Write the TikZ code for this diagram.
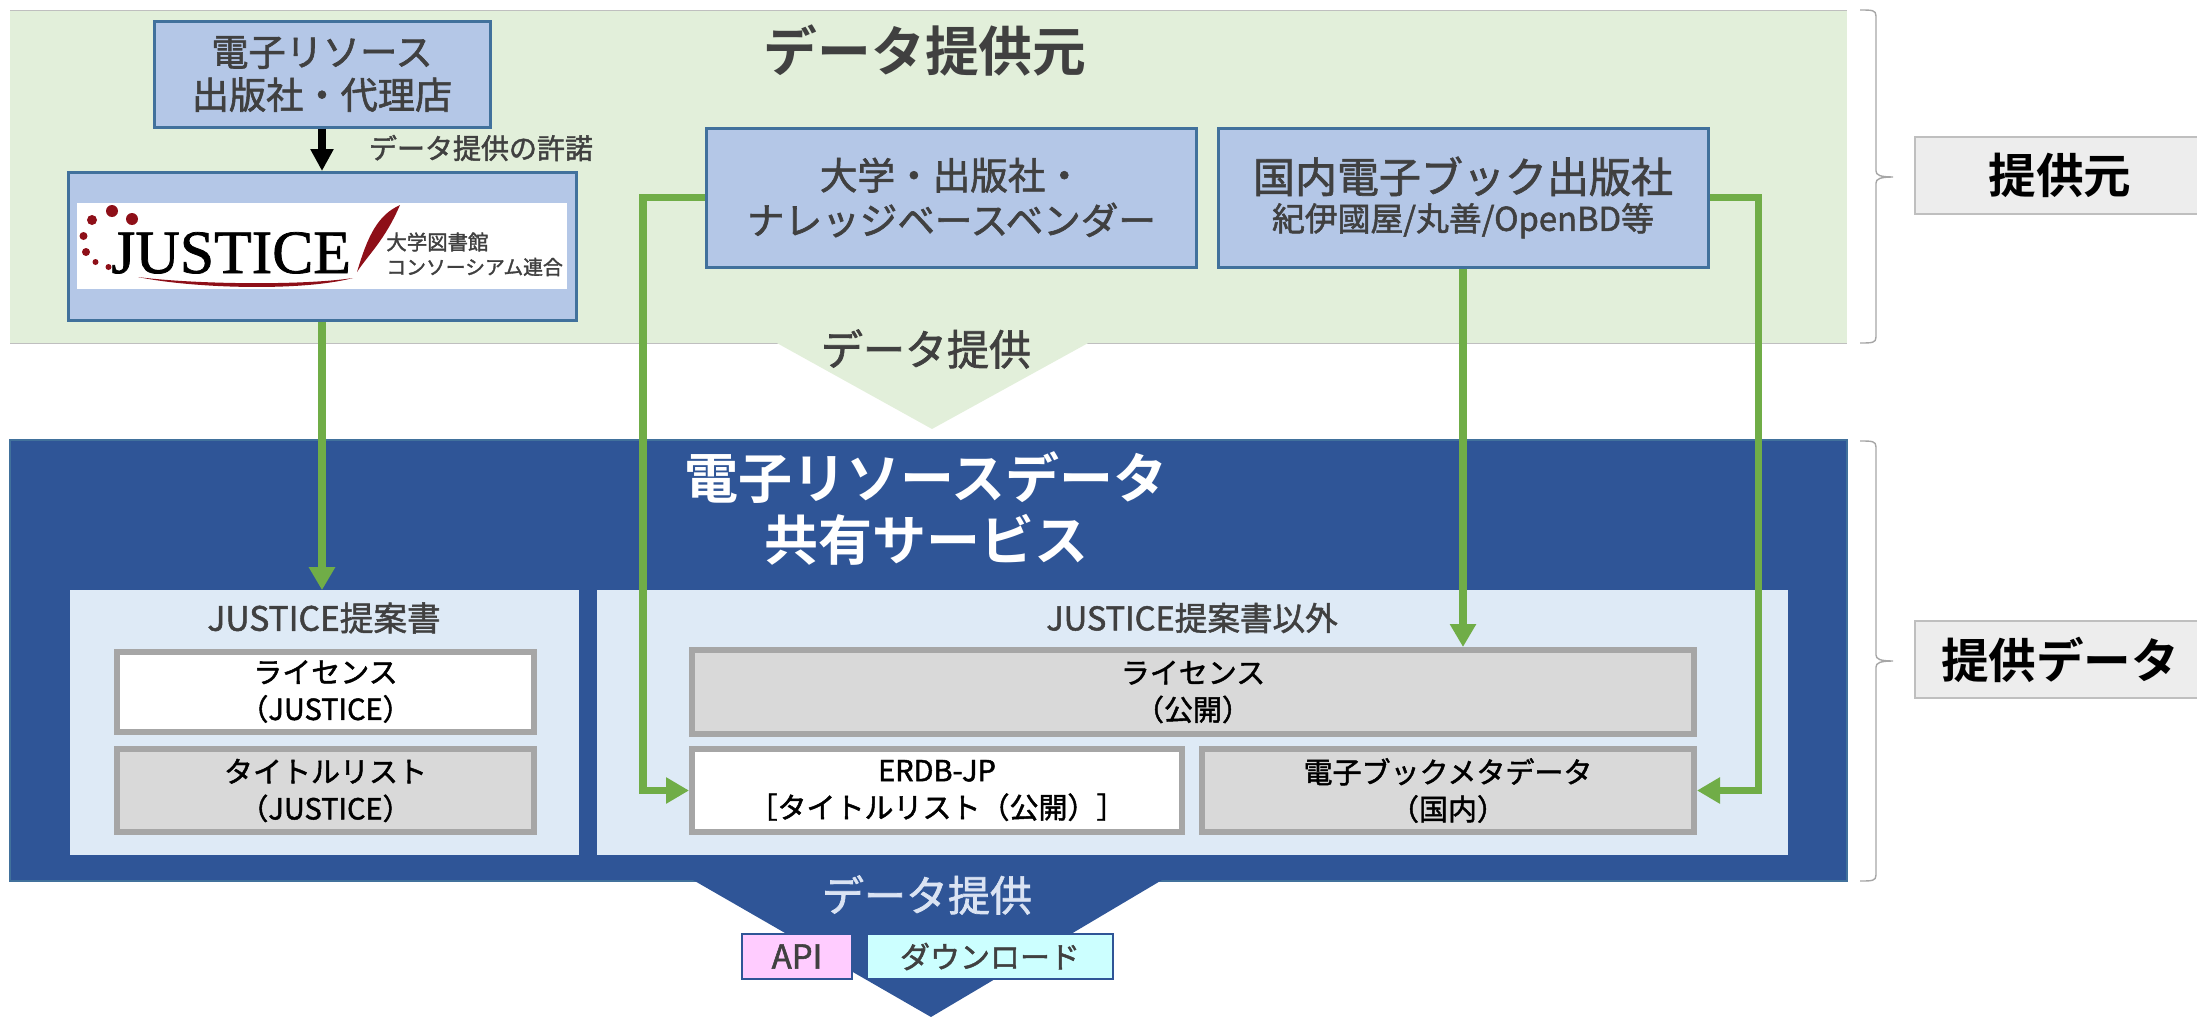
\documentclass[tikz,border=0pt]{standalone}
\usepackage{fontspec}
\usetikzlibrary{arrows.meta}
\setmainfont{Noto Sans CJK JP}
\newfontfamily\medf[FakeBold=1.6]{Noto Sans CJK JP}
\newfontfamily\boldf{Noto Sans CJK JP Bold}
\newfontfamily\logof[FakeBold=1.2]{Liberation Serif}
\definecolor{bandgreen}{HTML}{E2EFDA}
\definecolor{bandblue}{HTML}{2F5597}
\definecolor{boxblue}{HTML}{B4C7E7}
\definecolor{edgeblue}{HTML}{41719C}
\definecolor{panelblue}{HTML}{DEEAF6}
\definecolor{dgray}{HTML}{404040}
\definecolor{midgray}{HTML}{A6A6A6}
\definecolor{fillgray}{HTML}{D9D9D9}
\definecolor{arrowgreen}{HTML}{70AD47}
\definecolor{lightwhite}{HTML}{DAE3F3}
\definecolor{logored}{HTML}{8E0F18}
\definecolor{apipink}{HTML}{FFCCFF}
\definecolor{dlcyan}{HTML}{CCFFFF}
\tikzset{
  every node/.style={inner sep=0pt},
  sourcebox/.style={draw=edgeblue,line width=1.5pt,fill=boxblue,align=center,text=dgray},
  databox/.style={draw=midgray,line width=3pt,align=center,text=black,fill=fillgray,font=\medf\fontsize{14.5}{18.5}\selectfont},
  whitebox/.style={databox,fill=white},
  panel/.style={fill=panelblue,draw=panelblue},
  flow/.style={draw=arrowgreen,line width=3.8pt,-{Triangle[width=12.5pt,length=11.5pt]}},
  sidebox/.style={draw=black!25,line width=.7pt,fill=black!7,font=\boldf\fontsize{23.8}{28}\selectfont,text=black},
  bracepath/.style={draw=midgray,line width=.7pt},
}
\begin{document}
\begin{tikzpicture}[x=.5pt,y=-.5pt]
\useasboundingbox (0,0) rectangle (2197,1017);
% green band
\fill[bandgreen] (10,10) rectangle (1847,343);
\draw[black!25,line width=.5pt] (10,10) -- (1847,10) (10,343) -- (1847,343);
\fill[bandgreen] (775,342) -- (1090,342) -- (932,429) -- cycle;
% blue band
\draw[edgeblue,fill=bandblue,line width=.6pt] (10,440) rectangle (1847,881);
\fill[bandblue] (693,880) -- (1162,880) -- (931,1017) -- cycle;
% headings
\node[font=\boldf\fontsize{26.9}{32}\selectfont,text=dgray] (srctitle) at (925,50) {データ提供元};
\node[font=\medf\fontsize{21}{25}\selectfont,text=dgray] (give1) at (926,349) {データ提供};
\node[font=\boldf\fontsize{27}{31}\selectfont,text=white,align=center] (svc) at (926,508) {電子リソースデータ\\共有サービス};
\node[font=\medf\fontsize{21}{25}\selectfont,text=lightwhite] (give2) at (927,895) {データ提供};
% source boxes
\node[sourcebox,minimum width=168pt,minimum height=53pt,font=\medf\fontsize{18.6}{21.5}\selectfont] (pub) at (322,74) {電子リソース\\出版社・代理店};
\node[sourcebox,minimum width=254pt,minimum height=74pt] (justice) at (322,246.5) {};
\node[sourcebox,minimum width=245pt,minimum height=69.5pt,font=\medf\fontsize{18.8}{22.5}\selectfont] (univ) at (951.5,197.5) {大学・出版社・\\ナレッジベースベンダー};
\node[sourcebox,minimum width=245pt,minimum height=69.5pt] (domestic) at (1463,197.5) {{\medf\fontsize{21}{25}\selectfont 国内電子ブック出版社}\\[2.5pt]{\medf\fontsize{16.4}{19}\selectfont 紀伊國屋/丸善/OpenBD等}};
\node[font=\medf\fontsize{14}{17}\selectfont,text=dgray] (permit) at (481,148) {データ提供の許諾};
% logo
\fill[white] (77,203) rectangle (567,289);
\fill[logored] (92,220) circle[radius=5] (112,211) circle[radius=6] (132,219) circle[radius=6]
  (83.5,236) circle[radius=4] (86,252) circle[radius=4] (95.5,262) circle[radius=3] (108.5,267) circle[radius=3];
\node[anchor=base west,font=\logof\fontsize{30.8}{32}\selectfont,text=black] (logotext) at (111,273) {JUSTICE};
\fill[logored] (400,205) .. controls (378,215) and (368,235) .. (357,272) .. controls (368,255) and (385,240) .. (400,205) -- cycle;
\fill[logored] (138,277) .. controls (190,288) and (300,292) .. (353,278) .. controls (300,286) and (190,284) .. (138,277) -- cycle;
\node[anchor=west,font=\medf\fontsize{10.2}{12}\selectfont,text=dgray] (logoa) at (386,242) {大学図書館};
\node[anchor=west,font=\medf\fontsize{9.9}{12}\selectfont,text=dgray] (logob) at (386,267) {コンソーシアム連合};
% panels
\node[panel,minimum width=254pt,minimum height=132pt] (pleft) at (324.5,722.5) {};
\node[panel,minimum width=595pt,minimum height=132pt] (pright) at (1192.5,722.5) {};
\node[font=\medf\fontsize{16.8}{19}\selectfont,text=dgray] (pltitle) at (324,618) {JUSTICE提案書};
\node[font=\medf\fontsize{16.3}{19}\selectfont,text=dgray] (prtitle) at (1192,618) {JUSTICE提案書以外};
\node[whitebox,minimum width=208.5pt,minimum height=40pt] (l1) at (325.5,691.5) {ライセンス\\（JUSTICE）};
\node[databox,minimum width=208.5pt,minimum height=41.5pt] (l2) at (325.5,790.5) {タイトルリスト\\（JUSTICE）};
\node[databox,minimum width=501pt,minimum height=42pt] (r1) at (1193,692) {ライセンス\\（公開）};
\node[whitebox,minimum width=245pt,minimum height=41.5pt] (r2) at (937,790.5) {ERDB-JP\\［タイトルリスト（公開）］};
\node[databox,minimum width=246pt,minimum height=41.5pt] (r3) at (1448,790.5) {電子ブックメタデータ\\（国内）};
% output boxes
\node[draw=bandblue,line width=1.2pt,fill=apipink,minimum width=55pt,minimum height=22.5pt,font=\medf\fontsize{16.5}{20}\selectfont,text=dgray] (api) at (797,956.5) {API};
\node[draw=bandblue,line width=1.2pt,fill=dlcyan,minimum width=123pt,minimum height=22.5pt,font=\medf\fontsize{15}{18}\selectfont,text=dgray] (dl) at (990,956.5) {ダウンロード};
% connectors
\draw[draw=black,line width=3.8pt,-{Triangle[width=11pt,length=11pt]}] (pub.south) -- (justice.north);
\draw[flow] (justice.south) -- (justice.south |- pleft.north);
\draw[flow] (univ.west) -- ++(-62,0) |- (r2.west);
\draw[flow] (domestic.south) -- (domestic.south |- r1.north);
\draw[flow] (domestic.east) -- ++(49,0) |- (r3.east);
% side labels
\node[sidebox,minimum width=145pt,minimum height=38.5pt] (side1) at (2060,175.5) {提供元};
\node[sidebox,minimum width=145pt,minimum height=38.5pt] (side2) at (2060,659.5) {提供データ};
% braces
\coordinate (b1t) at (1860,10); \coordinate (b1b) at (1860,343); \coordinate (b1m) at (1893,177);
\coordinate (b2t) at (1860,441); \coordinate (b2b) at (1860,881); \coordinate (b2m) at (1893,661);
\draw[bracepath] (b1t) .. controls (1872,10) and (1876,10) .. (1876,16) -- (1876,171) .. controls (1876,175) and (1880,177) .. (b1m)
  .. controls (1880,177) and (1876,179) .. (1876,183) -- (1876,337) .. controls (1876,343) and (1872,343) .. (b1b);
\draw[bracepath] (b2t) .. controls (1872,441) and (1876,441) .. (1876,447) -- (1876,655) .. controls (1876,659) and (1880,661) .. (b2m)
  .. controls (1880,661) and (1876,663) .. (1876,667) -- (1876,875) .. controls (1876,881) and (1872,881) .. (b2b);
\end{tikzpicture}
\end{document}
